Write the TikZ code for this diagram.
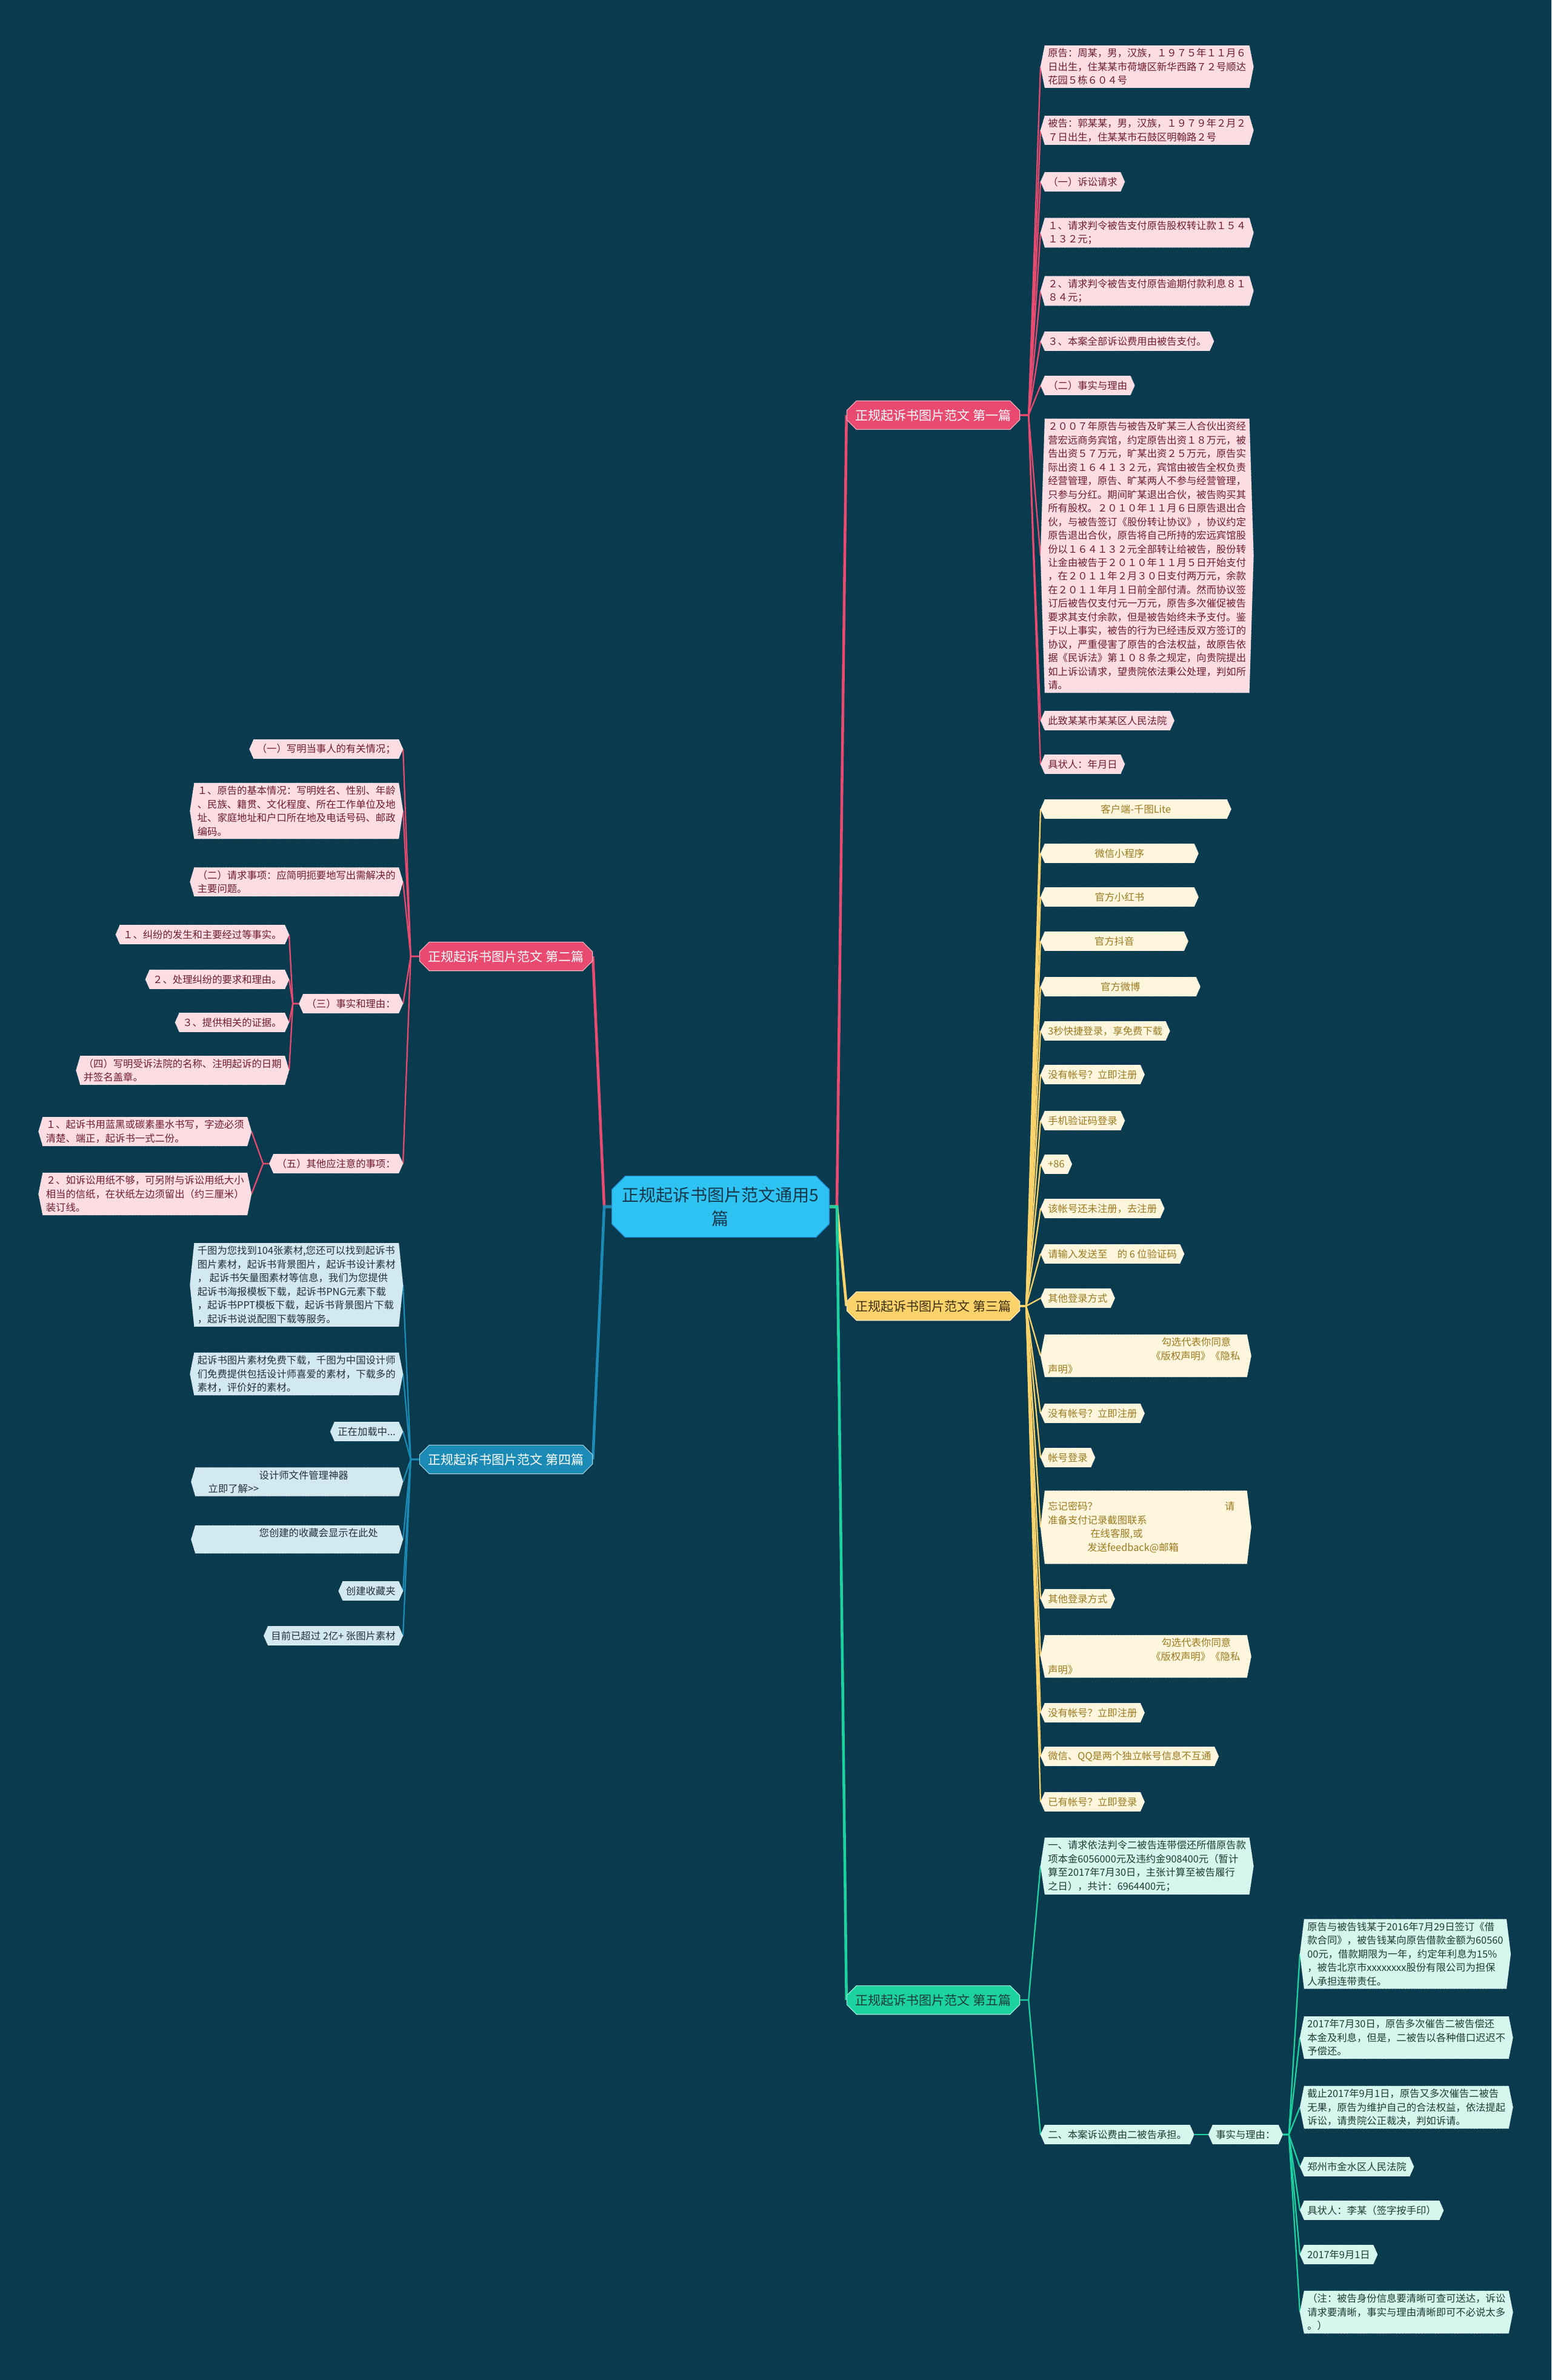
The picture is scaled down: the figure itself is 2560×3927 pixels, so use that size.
\documentclass[tikz,border=0pt]{standalone}
\usepackage{fontspec}
\setmainfont{Noto Sans CJK SC}
\usepackage{xcolor}
\usepackage{tikz}
\usetikzlibrary{shapes.misc,backgrounds,calc}

\definecolor{bgdark}{HTML}{0A3A4D}
\definecolor{rootfill}{HTML}{2FC3F3}
\definecolor{rootedge}{HTML}{2391D6}
\definecolor{roottext}{HTML}{16384A}
\definecolor{pinkmain}{HTML}{E84A70}
\definecolor{pinkfill}{HTML}{FDDDE4}
\definecolor{pinktext}{HTML}{6E1D2E}
\definecolor{goldmain}{HTML}{FCD26A}
\definecolor{goldfill}{HTML}{FFF6DD}
\definecolor{goldtext}{HTML}{9B7A1F}
\definecolor{goldsec}{HTML}{3D3012}
\definecolor{bluemain}{HTML}{1B8BB6}
\definecolor{bluefill}{HTML}{D2E9F1}
\definecolor{bluetext}{HTML}{22313C}
\definecolor{greenmain}{HTML}{1BD2A0}
\definecolor{greenfill}{HTML}{D6F7EE}
\definecolor{greentext}{HTML}{1F3A35}
\definecolor{greensec}{HTML}{1C3D36}

\newcommand{\leaffont}{\fontsize{9.3}{12.8}\selectfont}

\begin{document}
\begin{tikzpicture}[x=0.02cm, y=-0.02cm,
  rootbox/.style={chamfered rectangle, chamfered rectangle xsep=0.22cm, chamfered rectangle ysep=0.22cm, fill=rootfill, draw=rootedge, line width=0.8pt, minimum width=7.16cm, minimum height=2.02cm, align=center, font=\fontsize{16}{22}\selectfont, text=roottext},
  secbox/.style={chamfered rectangle, chamfered rectangle xsep=0.16cm, chamfered rectangle ysep=0.16cm, minimum width=5.7cm, minimum height=0.86cm, font=\fontsize{12}{14}\selectfont, line width=0.6pt},
  leaf/.style={inner xsep=0.1cm, inner ysep=0.09cm, minimum height=0.62cm, align=left, font=\leaffont},
  pinkitem/.style={leaf, text=pinktext},
  golditem/.style={leaf, text=goldtext},
  blueitem/.style={leaf, text=bluetext},
  greenitem/.style={leaf, text=greentext},
  pinkhex/.style={fill=pinkfill, draw=white, densely dotted, line width=0.4pt},
  goldhex/.style={fill=goldfill, draw=white, densely dotted, line width=0.4pt},
  bluehex/.style={fill=bluefill, draw=white, densely dotted, line width=0.4pt},
  greenhex/.style={fill=greenfill, draw=white, densely dotted, line width=0.4pt},
  trunk/.style={line width=2.6pt},
  twig/.style={line width=1.3pt},
]
\useasboundingbox (0,0) rectangle (2560,3927);

\node[rootbox] (root) at (1189,1991) {正规起诉书图片范文通用5\\篇};

\node[secbox, fill=pinkmain, draw=pinkmain!40!white, text=white] (sec1) at (1540,685) {正规起诉书图片范文 第一篇};
\node[secbox, fill=pinkmain, draw=pinkmain!40!white, text=white] (sec2) at (835,1578) {正规起诉书图片范文 第二篇};
\node[secbox, fill=goldmain, draw=goldmain!40!white, text=goldsec] (sec3) at (1540,2155) {正规起诉书图片范文 第三篇};
\node[secbox, fill=bluemain, draw=bluemain!40!white, text=white] (sec4) at (835,2408) {正规起诉书图片范文 第四篇};
\node[secbox, fill=greenmain, draw=greenmain!40!white, text=greensec] (sec5) at (1540,3300) {正规起诉书图片范文 第五篇};

% first
\node[pinkitem, anchor=west] (ia1) at (1724,110) {原告：周某，男，汉族，１９７５年１１月６\\日出生，住某某市荷塘区新华西路７２号顺达\\花园５栋６０４号};
\node[pinkitem, anchor=west] (ia2) at (1724,215) {被告：郭某某，男，汉族，１９７９年２月２\\７日出生，住某某市石鼓区明翰路２号};
\node[pinkitem, anchor=west] (ia3) at (1724,300) {（一）诉讼请求};
\node[pinkitem, anchor=west] (ia4) at (1724,384) {１、请求判令被告支付原告股权转让款１５４\\１３２元；};
\node[pinkitem, anchor=west] (ia5) at (1724,480) {２、请求判令被告支付原告逾期付款利息８１\\８４元；};
\node[pinkitem, anchor=west] (ia6) at (1724,563) {３、本案全部诉讼费用由被告支付。};
\node[pinkitem, anchor=west] (ia7) at (1724,636) {（二）事实与理由};
\node[pinkitem, anchor=west] (ia8) at (1724,917) {２００７年原告与被告及旷某三人合伙出资经\\营宏远商务宾馆，约定原告出资１８万元，被\\告出资５７万元，旷某出资２５万元，原告实\\际出资１６４１３２元，宾馆由被告全权负责\\经营管理，原告、旷某两人不参与经营管理，\\只参与分红。期间旷某退出合伙，被告购买其\\所有股权。２０１０年１１月６日原告退出合\\伙，与被告签订《股份转让协议》，协议约定\\原告退出合伙，原告将自己所持的宏远宾馆股\\份以１６４１３２元全部转让给被告，股份转\\让金由被告于２０１０年１１月５日开始支付\\，在２０１１年２月３０日支付两万元，余款\\在２０１１年月１日前全部付清。然而协议签\\订后被告仅支付元一万元，原告多次催促被告\\要求其支付余款，但是被告始终未予支付。鉴\\于以上事实，被告的行为已经违反双方签订的\\协议，严重侵害了原告的合法权益，故原告依\\据《民诉法》第１０８条之规定，向贵院提出\\如上诉讼请求，望贵院依法秉公处理，判如所\\请。};
\node[pinkitem, anchor=west] (ia9) at (1724,1189) {此致某某市某某区人民法院};
\node[pinkitem, anchor=west] (ia10) at (1724,1261) {具状人：年月日};

% second
\node[pinkitem, anchor=east] (ib1) at (658,1236) {（一）写明当事人的有关情况；};
\node[pinkitem, anchor=east] (ib2) at (658,1338) {１、原告的基本情况：写明姓名、性别、年龄\\、民族、籍贯、文化程度、所在工作单位及地\\址、家庭地址和户口所在地及电话号码、邮政\\编码。};
\node[pinkitem, anchor=east] (ib3) at (658,1455) {（二）请求事项：应简明扼要地写出需解决的\\主要问题。};
\node[pinkitem, anchor=east] (ib4) at (658,1656) {（三）事实和理由：};
\node[pinkitem, anchor=east] (ib41) at (470,1542) {１、纠纷的发生和主要经过等事实。};
\node[pinkitem, anchor=east] (ib42) at (470,1616) {２、处理纠纷的要求和理由。};
\node[pinkitem, anchor=east] (ib43) at (470,1687) {３、提供相关的证据。};
\node[pinkitem, anchor=east] (ib44) at (470,1766) {（四）写明受诉法院的名称、注明起诉的日期\\并签名盖章。};
\node[pinkitem, anchor=east] (ib5) at (658,1920) {（五）其他应注意的事项：};
\node[pinkitem, anchor=east] (ib51) at (408,1867) {１、起诉书用蓝黑或碳素墨水书写，字迹必须\\清楚、端正，起诉书一式二份。};
\node[pinkitem, anchor=east] (ib52) at (408,1970) {２、如诉讼用纸不够，可另附与诉讼用纸大小\\相当的信纸，在状纸左边须留出（约三厘米）\\装订线。};

% third
\node[golditem, anchor=west, text width=5.8cm, align=center] (ic1) at (1724,1335) {客户端-千图Lite};
\node[golditem, anchor=west, text width=4.72cm, align=center] (ic2) at (1724,1408) {微信小程序};
\node[golditem, anchor=west, text width=4.72cm, align=center] (ic3) at (1724,1480) {官方小红书};
\node[golditem, anchor=west, text width=4.38cm, align=center] (ic4) at (1724,1553) {官方抖音};
\node[golditem, anchor=west, text width=4.78cm, align=center] (ic5) at (1724,1628) {官方微博};
\node[golditem, anchor=west] (ic6) at (1724,1701) {3秒快捷登录，享免费下载};
\node[golditem, anchor=west] (ic7) at (1724,1773) {没有帐号？立即注册};
\node[golditem, anchor=west] (ic8) at (1724,1849) {手机验证码登录};
\node[golditem, anchor=west] (ic9) at (1724,1921) {+86};
\node[golditem, anchor=west] (ic10) at (1724,1994) {该帐号还未注册，去注册};
\node[golditem, anchor=west] (ic11) at (1724,2069) {请输入发送至\quad 的 6 位验证码};
\node[golditem, anchor=west] (ic12) at (1724,2142) {其他登录方式};
\node[golditem, anchor=west, text width=6.46cm] (ic13) at (1724,2237) {\hspace*{3.75cm}勾选代表你同意\\\hspace*{3.4cm}《版权声明》《隐私\\声明》};
\node[golditem, anchor=west] (ic14) at (1724,2332) {没有帐号？立即注册};
\node[golditem, anchor=west] (ic15) at (1724,2405) {帐号登录};
\node[golditem, anchor=west, text width=6.46cm, minimum height=2.4cm] (ic16) at (1724,2520) {忘记密码？\hspace*{4.2cm}请\\准备支付记录截图联系\\\hspace*{1.4cm}在线客服,或\\\hspace*{1.3cm}发送feedback@邮箱};
\node[golditem, anchor=west] (ic17) at (1724,2638) {其他登录方式};
\node[golditem, anchor=west, text width=6.46cm] (ic18) at (1724,2733) {\hspace*{3.75cm}勾选代表你同意\\\hspace*{3.4cm}《版权声明》《隐私\\声明》};
\node[golditem, anchor=west] (ic19) at (1724,2826) {没有帐号？立即注册};
\node[golditem, anchor=west] (ic20) at (1724,2898) {微信、QQ是两个独立帐号信息不互通};
\node[golditem, anchor=west] (ic21) at (1724,2973) {已有帐号？立即登录};

% fourth
\node[blueitem, anchor=east] (id1) at (658,2120) {千图为您找到104张素材,您还可以找到起诉书\\图片素材，起诉书背景图片，起诉书设计素材\\， 起诉书矢量图素材等信息，我们为您提供\\起诉书海报模板下载，起诉书PNG元素下载\\，起诉书PPT模板下载，起诉书背景图片下载\\，起诉书说说配图下载等服务。};
\node[blueitem, anchor=east] (id2) at (658,2267) {起诉书图片素材免费下载，千图为中国设计师\\们免费提供包括设计师喜爱的素材，下载多的\\素材，评价好的素材。};
\node[blueitem, anchor=east] (id3) at (658,2362) {正在加载中...};
\node[blueitem, anchor=east, text width=6.5cm] (id4) at (658,2445) {\hspace*{2cm}设计师文件管理神器\\\hspace*{0.32cm}立即了解>{}>};
\node[blueitem, anchor=east, text width=6.5cm] (id5) at (658,2540) {\hspace*{2cm}您创建的收藏会显示在此处\\\mbox{}};
\node[blueitem, anchor=east] (id6) at (658,2625) {创建收藏夹};
\node[blueitem, anchor=east] (id7) at (658,2699) {目前已超过 2亿+ 张图片素材};

% fifth
\node[greenitem, anchor=west] (ie1) at (1724,3079) {一、请求依法判令二被告连带偿还所借原告款\\项本金6056000元及违约金908400元（暂计\\算至2017年7月30日，主张计算至被告履行\\之日），共计：6964400元；};
\node[greenitem, anchor=west] (ie2) at (1724,3522) {二、本案诉讼费由二被告承担。};
\node[greenitem, anchor=west] (ie3) at (2001,3522) {事实与理由：};
\node[greenitem, anchor=west] (ie31) at (2152,3224) {原告与被告钱某于2016年7月29日签订《借\\款合同》，被告钱某向原告借款金额为60560\\00元，借款期限为一年，约定年利息为15\%\\，被告北京市xxxxxxxx股份有限公司为担保\\人承担连带责任。};
\node[greenitem, anchor=west] (ie32) at (2152,3362) {2017年7月30日，原告多次催告二被告偿还\\本金及利息，但是，二被告以各种借口迟迟不\\予偿还。};
\node[greenitem, anchor=west] (ie33) at (2152,3477) {截止2017年9月1日，原告又多次催告二被告\\无果，原告为维护自己的合法权益，依法提起\\诉讼，请贵院公正裁决，判如诉请。};
\node[greenitem, anchor=west] (ie34) at (2152,3575) {郑州市金水区人民法院};
\node[greenitem, anchor=west] (ie35) at (2152,3647) {具状人：李某（签字按手印）};
\node[greenitem, anchor=west] (ie36) at (2152,3720) {2017年9月1日};
\node[greenitem, anchor=west] (ie37) at (2152,3815) {（注：被告身份信息要清晰可查可送达，诉讼\\请求要清晰，事实与理由清晰即可不必说太多\\。）};

\begin{scope}[on background layer]
\fill[bgdark] (0,0) rectangle (2560,3927);

\draw[trunk, pinkmain] (root.east) -- ++(12,0) -- (sec1.west);
\draw[trunk, goldmain] (root.east) -- ++(12,0) -- (sec3.west);
\draw[trunk, greenmain] (root.east) -- ++(12,0) -- (sec5.west);
\draw[trunk, pinkmain] (root.west) -- ++(-12,0) -- (sec2.east);
\draw[trunk, bluemain] (root.west) -- ++(-12,0) -- (sec4.east);

\foreach \i in {1,...,10}
  \draw[twig, pinkmain] (sec1.east) -- ++(14,0) -- ([xshift=-4pt]ia\i.west);
\foreach \n in {ib1,ib2,ib3,ib4,ib5}
  \draw[twig, pinkmain] (sec2.west) -- ++(-14,0) -- ([xshift=4pt]\n.east);
\foreach \i in {1,...,4}
  \draw[twig, pinkmain] ([xshift=-4pt]ib4.west) -- ++(-10,0) -- ([xshift=4pt]ib4\i.east);
\foreach \i in {1,2}
  \draw[twig, pinkmain] ([xshift=-4pt]ib5.west) -- ++(-10,0) -- ([xshift=4pt]ib5\i.east);
\foreach \i in {1,...,21}
  \draw[twig, goldmain] (sec3.east) -- ++(10,0) -- ([xshift=-4pt]ic\i.west);
\foreach \i in {1,...,7}
  \draw[twig, bluemain] (sec4.west) -- ++(-14,0) -- ([xshift=4pt]id\i.east);
\foreach \i in {1,2}
  \draw[twig, greenmain] (sec5.east) -- ++(14,0) -- ([xshift=-4pt]ie\i.west);
\draw[twig, greenmain] ([xshift=4pt]ie2.east) -- ([xshift=-4pt]ie3.west);
\foreach \i in {1,...,7}
  \draw[twig, greenmain] ([xshift=4pt]ie3.east) -- ++(10,0) -- ([xshift=-4pt]ie3\i.west);

\foreach \n in {ia1,ia2,ia3,ia4,ia5,ia6,ia7,ia8,ia9,ia10,ib1,ib2,ib3,ib4,ib5,ib41,ib42,ib43,ib44,ib51,ib52}
  \filldraw[pinkhex] (\n.north west) -- ([xshift=-4pt]\n.west) -- (\n.south west) -- (\n.south east) -- ([xshift=4pt]\n.east) -- (\n.north east) -- cycle;
\foreach \i in {1,...,21}
  \filldraw[goldhex] (ic\i.north west) -- ([xshift=-4pt]ic\i.west) -- (ic\i.south west) -- (ic\i.south east) -- ([xshift=4pt]ic\i.east) -- (ic\i.north east) -- cycle;
\foreach \i in {1,...,7}
  \filldraw[bluehex] (id\i.north west) -- ([xshift=-4pt]id\i.west) -- (id\i.south west) -- (id\i.south east) -- ([xshift=4pt]id\i.east) -- (id\i.north east) -- cycle;
\foreach \n in {ie1,ie2,ie3,ie31,ie32,ie33,ie34,ie35,ie36,ie37}
  \filldraw[greenhex] (\n.north west) -- ([xshift=-4pt]\n.west) -- (\n.south west) -- (\n.south east) -- ([xshift=4pt]\n.east) -- (\n.north east) -- cycle;
\end{scope}

\end{tikzpicture}
\end{document}
